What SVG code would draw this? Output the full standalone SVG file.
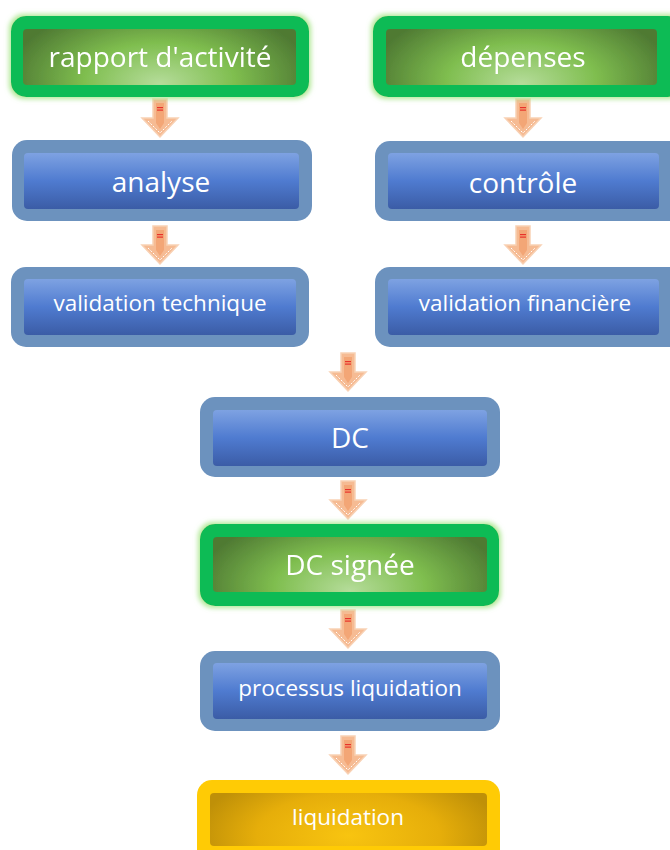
<svg xmlns="http://www.w3.org/2000/svg" width="670" height="850" viewBox="0 0 670 850">
<style>
.t{font-family:"Open Sans","Liberation Sans",sans-serif;fill:#ffffff;text-anchor:middle;dominant-baseline:central}
.gOut{fill:#0abb55}
.bOut{fill:#6c92be}
.yOut{fill:#ffcb05}
</style>
<defs>
<radialGradient id="gIn" cx="0.5" cy="0.85" r="0.55" fx="0.5" fy="0.9" gradientTransform="translate(0.5,0.85) scale(1,2.4) translate(-0.5,-0.85)">
<stop offset="0" stop-color="#b5dc9a"/>
<stop offset="0.5" stop-color="#7fbe4f"/>
<stop offset="1" stop-color="#4f7a33"/>
</radialGradient>
<linearGradient id="bIn" x1="0" y1="0" x2="0" y2="1">
<stop offset="0" stop-color="#7ea2e2"/>
<stop offset="0.5" stop-color="#4f7bd0"/>
<stop offset="1" stop-color="#3b5ca6"/>
</linearGradient>
<radialGradient id="yIn" cx="0.5" cy="0.8" r="0.55" gradientTransform="translate(0.5,0.8) scale(1,2.4) translate(-0.5,-0.8)">
<stop offset="0" stop-color="#f8c410"/>
<stop offset="0.6" stop-color="#e6ae0a"/>
<stop offset="1" stop-color="#bf9008"/>
</radialGradient>
<filter id="glow2" x="-10%" y="-25%" width="120%" height="150%">
<feMorphology in="SourceAlpha" operator="dilate" radius="2" result="d"/>
<feGaussianBlur in="d" stdDeviation="2.5" result="b"/>
<feFlood flood-color="#a8e58a" flood-opacity="0.9"/>
<feComposite operator="in" in2="b" result="g"/>
<feMerge><feMergeNode in="g"/><feMergeNode in="SourceGraphic"/></feMerge>
</filter>
<g id="arr">
<path d="M-7,0 H7 V19 H18 L0,38 L-18,19 H-7 Z" fill="#f6b88e" stroke="#f8cfb0" stroke-width="1.5" opacity="0.95"/>
<path d="M-4,4 H4 V24 L0,30 L-4,24 Z" fill="#f3a676"/>
<path d="M-12,22 L0,34 L12,22" fill="none" stroke="#ffffff" stroke-width="1" stroke-dasharray="2 1.5"/>
<rect x="-3" y="8" width="6" height="1.2" fill="#e8322a"/>
<rect x="-3" y="10.5" width="6" height="1.2" fill="#e8322a"/>
</g>
</defs>

<g id="connectors">
<use href="#arr" x="160" y="99"/>
<use href="#arr" x="160" y="226"/>
<use href="#arr" x="523" y="99"/>
<use href="#arr" x="523" y="226"/>
<use href="#arr" x="348" y="353"/>
<use href="#arr" x="348" y="481"/>
<use href="#arr" x="348" y="610"/>
<use href="#arr" x="348" y="736"/>
</g>

<g id="rapport" filter="url(#glow2)">
<rect class="gOut" x="11" y="16" width="298" height="81" rx="15"/>
<rect x="23" y="29" width="273" height="56" rx="4" fill="url(#gIn)"/>
<text class="t" x="160" y="56" font-size="28">rapport d'activité</text>
</g>
<g id="depenses" filter="url(#glow2)">
<rect class="gOut" x="373" y="16" width="310" height="81" rx="15"/>
<rect x="386" y="29" width="271" height="56" rx="4" fill="url(#gIn)"/>
<text class="t" x="523" y="56" font-size="28">dépenses</text>
</g>

<g id="analyse">
<rect class="bOut" x="12" y="140" width="300" height="81" rx="15"/>
<rect x="24" y="153" width="275" height="56" rx="4" fill="url(#bIn)"/>
<text class="t" x="161" y="181" font-size="28">analyse</text>
</g>
<g id="controle">
<rect class="bOut" x="375" y="141" width="310" height="80" rx="15"/>
<rect x="388" y="153" width="271" height="56" rx="4" fill="url(#bIn)"/>
<text class="t" x="523" y="182" font-size="28">contrôle</text>
</g>

<g id="validation-technique">
<rect class="bOut" x="11" y="267" width="298" height="80" rx="15"/>
<rect x="24" y="279" width="272" height="56" rx="4" fill="url(#bIn)"/>
<text class="t" x="160" y="302" font-size="22.5">validation technique</text>
</g>
<g id="validation-financiere">
<rect class="bOut" x="375" y="267" width="310" height="80" rx="15"/>
<rect x="388" y="279" width="271" height="56" rx="4" fill="url(#bIn)"/>
<text class="t" x="525" y="302" font-size="22.5">validation financière</text>
</g>

<g id="dc">
<rect class="bOut" x="200" y="397" width="300" height="80" rx="15"/>
<rect x="213" y="410" width="274" height="56" rx="4" fill="url(#bIn)"/>
<text class="t" x="350" y="437" font-size="28">DC</text>
</g>

<g id="dc-signee" filter="url(#glow2)">
<rect class="gOut" x="200" y="524" width="299" height="82" rx="15"/>
<rect x="213" y="537" width="274" height="55" rx="4" fill="url(#gIn)"/>
<text class="t" x="350" y="564" font-size="28">DC signée</text>
</g>

<g id="processus-liquidation">
<rect class="bOut" x="200" y="651" width="300" height="80" rx="15"/>
<rect x="213" y="663" width="274" height="56" rx="4" fill="url(#bIn)"/>
<text class="t" x="350" y="687" font-size="22.5">processus liquidation</text>
</g>

<g id="liquidation">
<rect class="yOut" x="197" y="780" width="303" height="85" rx="15"/>
<rect x="210" y="793" width="277" height="53" rx="4" fill="url(#yIn)"/>
<text class="t" x="348" y="816" font-size="22.5">liquidation</text>
</g>
</svg>
